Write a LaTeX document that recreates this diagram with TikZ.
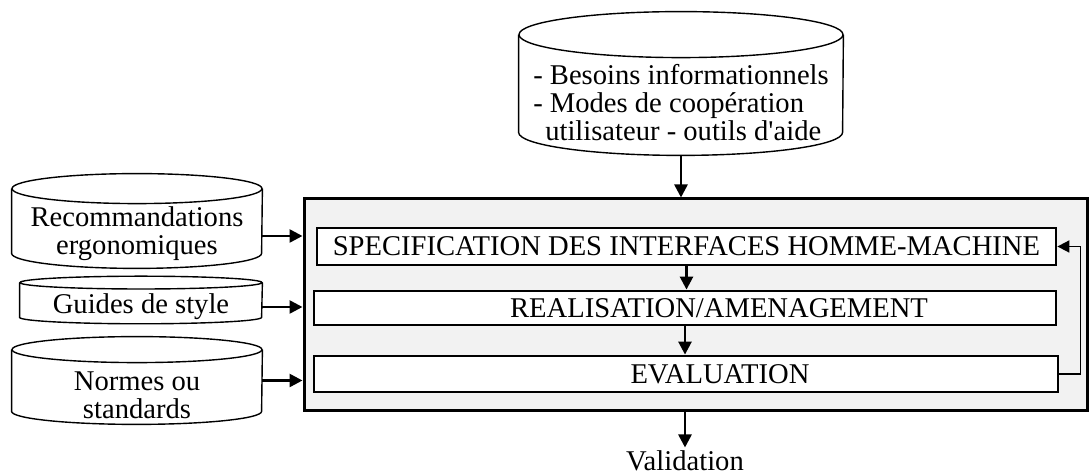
\documentclass[tikz,border=0pt]{standalone}
\usepackage{fontspec}
\setmainfont{Liberation Serif}[Ligatures=TeXOff]
\usetikzlibrary{arrows.meta,calc,positioning}

\tikzset{
  fleche/.style={line width=1.3pt,-{Triangle[length=6.5pt,width=6.5pt]}},
  retour/.style={line width=0.9pt,-{Triangle[length=6pt,width=6pt]}},
  etape/.style={draw,line width=1.4pt,fill=white,inner sep=0pt},
  corps/.style={inner sep=0pt,draw=none},
  texte/.style={inner sep=0pt,align=center}
}

% cylindre : nom, centre, largeur (pt), hauteur (pt), rayon y (pt)
\newcommand\drum[5]{%
  \node[corps,minimum width=#3,minimum height=#4] (#1) at (#2) {};
  \draw[line width=0.7pt] (#1.north west) -- (#1.south west)
    arc[start angle=180,end angle=360,x radius=#3/2,y radius=#5] -- (#1.north east);
  \draw[line width=0.7pt] (#1.north) ellipse[x radius=#3/2,y radius=#5];
  \coordinate (#1-bas) at ($(#1.south)-(0pt,#5)$);
}

\begin{document}
\begin{tikzpicture}[x=0.5pt,y=-0.5pt,font=\fontsize{14.3}{14}\selectfont]
  \useasboundingbox (0,0) rectangle (1089,474);

  % cadre principal
  \node[draw,line width=1.5pt,fill=black!5,minimum width=391.5pt,minimum height=106pt] (cadre) at (695.5,305) {};

  \node[etape,minimum width=369.5pt,minimum height=18.5pt] (spec) at (686.5,246.5) {SPECIFICATION DES INTERFACES HOMME-MACHINE};
  \node[etape,minimum width=371pt,minimum height=17pt] (real) at (685,308) {\hspace{34pt}REALISATION/AMENAGEMENT};
  \node[etape,minimum width=372pt,minimum height=18pt] (eval) at (686,374) {\hspace{34pt}EVALUATION};

  \draw[fleche] (spec.south) -- (spec.south |- real.north);
  \draw[fleche] (real.south) -- (real.south |- eval.north);
  \draw[retour] (eval.east) -- ++(21,0) |- (spec.east);

  % sources
  \drum{besoins}{681,83.5}{162pt}{48.5pt}{11.5pt}
  \node[texte,align=left] (besoinsT) at (681,103) {- Besoins informationnels\\- Modes de coopération\\\hspace*{6pt}utilisateur - outils d'aide};

  \drum{reco}{137,221}{125pt}{32pt}{7.5pt}
  \node[texte] (recoT) at (137,234) {Recommandations\\ergonomiques};

  \drum{guides}{141,300}{121pt}{17pt}{3.2pt}
  \node[texte] (guidesT) at (141,307) {Guides de style};

  \drum{normes}{137,380.5}{125pt}{30.5pt}{6.5pt}
  \node[texte] (normesT) at (137,395) {Normes ou\\standards};

  \coordinate (recoS) at ($(reco.east)+(0,15)$);
  \coordinate (guidesS) at ($(guides.east)+(0,7)$);
  \coordinate (normesS) at (normes.east);

  \draw[fleche] (besoins-bas) -- (besoins-bas |- cadre.north);
  \draw[fleche] (recoS) -- (recoS -| cadre.west);
  \draw[fleche] (guidesS) -- (guidesS -| cadre.west);
  \draw[fleche] (normesS) -- (normesS -| cadre.west);

  % sortie
  \node[texte] (valid) at (685,461) {Validation};
  \draw[fleche] (cadre.south -| valid) -- ++(0,35);
  %\draw (valid.north) -- (cadre.south);
\end{tikzpicture}
\end{document}
